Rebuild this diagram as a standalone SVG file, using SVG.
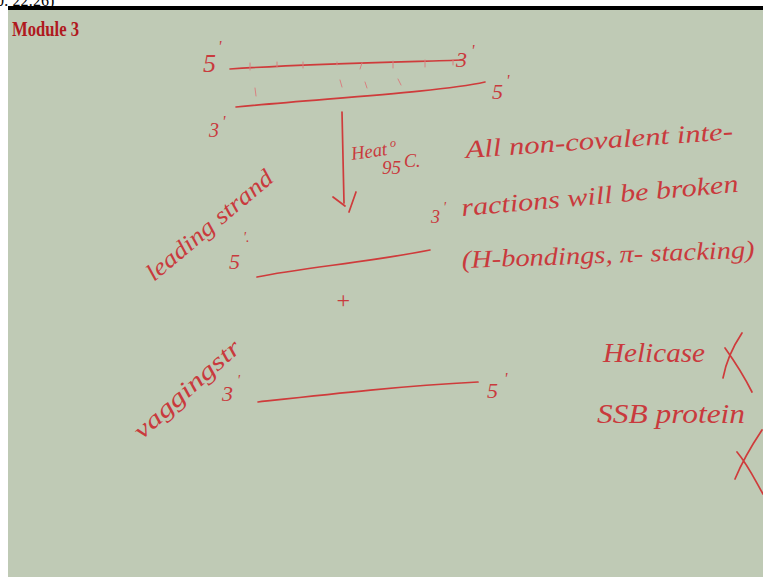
<svg xmlns="http://www.w3.org/2000/svg" width="763" height="579" viewBox="0 0 763 579">
<style>
.ink{fill:none;stroke:#cf3b3b;stroke-width:1.7;stroke-linecap:round;stroke-linejoin:round}
.tick{fill:none;stroke:#d88080;stroke-width:1;stroke-linecap:round}
.hw{font-family:"Liberation Serif",serif;font-style:italic;fill:#c93a3d}
</style>
<rect x="0" y="0" width="763" height="579" fill="#ffffff"/>
<text x="-4" y="6" font-family="Liberation Serif, serif" font-size="16" fill="#000">0: 22:26)</text>
<rect x="8" y="6" width="755" height="4" fill="#000"/>
<rect x="8" y="10" width="755" height="567" fill="#bfcab5"/>
<text x="12" y="36" font-family="Liberation Serif, serif" font-weight="bold" font-size="21" fill="#b0191e" textLength="67" lengthAdjust="spacingAndGlyphs">Module 3</text>

<g id="strands">
<path class="ink" d="M230 69 C 300 64, 400 62, 463 60"/>
<path class="tick" d="M250 63v7M277 62v5M303 62v6M337 62v3M362 63l-2 6M393 61v7M425 60v7M453 60v5"/>
<path class="ink" d="M236 107 C 330 98, 440 92, 485 82"/>
<path class="tick" d="M255 88l1 8M340 80l2 7M365 82l2 6M398 79l3 6"/>
<path class="ink" d="M257 277 C 300 268, 370 262, 430 250"/>
<path class="ink" d="M258 402 C 330 394, 400 386, 478 382"/>
</g>

<g id="connectors">
<path class="ink" d="M342 112 L 344 203 M333 197 L 345 206"/>
<path class="ink" d="M349 212 L 356 192"/>
</g>

<g id="labels" class="hw">
<text x="203" y="72" font-size="26">5</text><text x="218" y="52" font-size="16">'</text>
<text x="456" y="67" font-size="22">3</text><text x="471" y="56" font-size="16">'</text>
<text x="492" y="99" font-size="22">5</text><text x="506" y="86" font-size="16">'</text>
<text x="209" y="137" font-size="20">3</text><text x="222" y="127" font-size="16">'</text>

<text x="352" y="160" font-size="19" transform="rotate(-8 352 160)" textLength="36" lengthAdjust="spacingAndGlyphs">Heat</text>
<text x="390" y="147" font-size="12">o</text>
<text x="382" y="174" font-size="19">95</text><text x="404" y="167" font-size="18">C.</text>

<text x="466" y="158" font-size="25" transform="rotate(-4 466 158)" textLength="268" lengthAdjust="spacingAndGlyphs">All non-covalent inte-</text>
<text x="431" y="223" font-size="18">3</text><text x="443" y="212" font-size="14">'</text>
<text x="462" y="216" font-size="25" transform="rotate(-5 462 216)" textLength="278" lengthAdjust="spacingAndGlyphs">ractions will be broken</text>
<text x="462" y="268" font-size="25" transform="rotate(-2 462 268)" textLength="293" lengthAdjust="spacingAndGlyphs">(H-bondings, π- stacking)</text>

<text x="154" y="282" font-size="24" transform="rotate(-40 154 282)" textLength="158" lengthAdjust="spacingAndGlyphs">leading strand</text>
<text x="229" y="269" font-size="22">5</text><text x="243" y="242" font-size="14">'.</text>
<text x="335" y="308" font-size="24">+</text>

<text x="142" y="440" font-size="24" transform="rotate(-42 142 440)" textLength="135" lengthAdjust="spacingAndGlyphs">vaggingstr</text>
<text x="222" y="401" font-size="22">3</text><text x="237" y="385" font-size="14">'</text>
<text x="487" y="398" font-size="22">5</text><text x="504" y="384" font-size="16">'</text>

<text x="603" y="362" font-size="28" textLength="102" lengthAdjust="spacingAndGlyphs">Helicase</text>
<text x="597" y="423" font-size="28" textLength="148" lengthAdjust="spacingAndGlyphs">SSB protein</text>
</g>
<g id="marks">
<path class="ink" d="M742 333 C 732 348, 726 362, 723 378 M725 348 C 735 362, 745 378, 752 392"/>
<path class="ink" d="M762 430 C 752 445, 742 462, 735 479 M737 452 C 748 465, 755 480, 763 494"/>
</g>
</svg>
